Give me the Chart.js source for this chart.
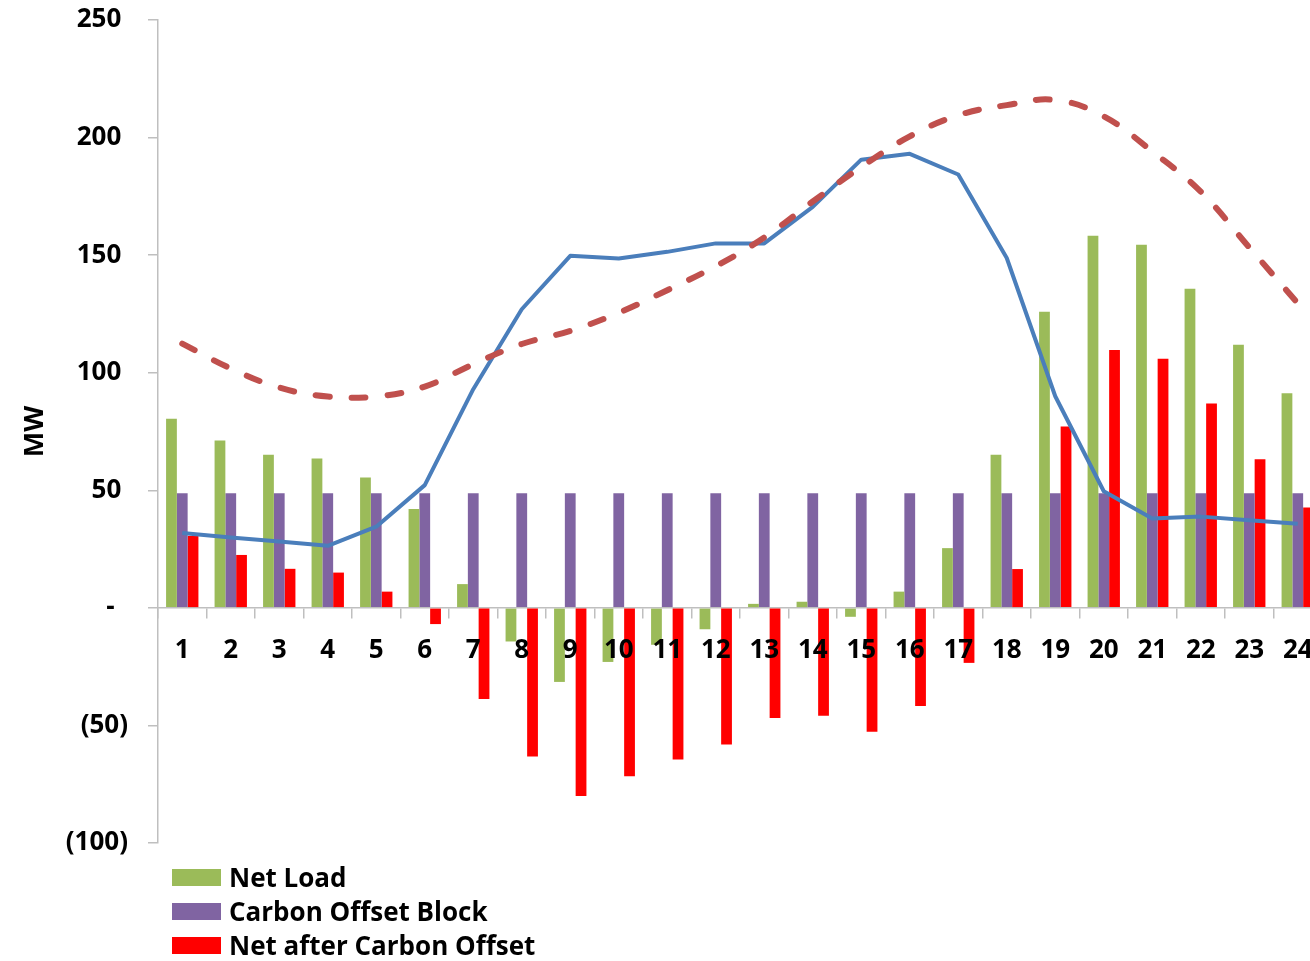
<!DOCTYPE html>
<html>
<head>
<meta charset="utf-8">
<script src="https://cdn.jsdelivr.net/npm/chart.js@4"></script>
<style>
  html, body { margin: 0; padding: 0; background: #fff; overflow: hidden; }
  #wrap { width: 1322px; height: 961px; }
</style>
</head>
<body>
<div id="wrap"><canvas id="c" width="1322" height="961"></canvas></div>
<script>
// Hour of day
const hours = ['1','2','3','4','5','6','7','8','9','10','11','12','13','14','15','16','17','18','19','20','21','22','23','24'];

// Bar series (MW)
const netLoad = [80.4, 71.2, 65.1, 63.5, 55.4, 42.0, 10.1, -14.3, -31.5, -23.0, -15.7, -9.1, 1.7, 2.6, -3.8, 6.9, 25.4, 65.1, 125.9, 158.2, 154.4, 135.7, 111.9, 91.3];
const carbonOffsetBlock = [48.7, 48.7, 48.7, 48.7, 48.7, 48.7, 48.7, 48.7, 48.7, 48.7, 48.7, 48.7, 48.7, 48.7, 48.7, 48.7, 48.7, 48.7, 48.7, 48.7, 48.7, 48.7, 48.7, 48.7];
const netAfterOffset = [30.6, 22.5, 16.6, 15.0, 6.9, -6.9, -38.8, -63.2, -80.0, -71.6, -64.5, -58.1, -46.8, -45.9, -52.7, -41.7, -23.4, 16.5, 77.1, 109.7, 105.9, 86.9, 63.2, 42.7];

// Line series (MW)
const solidProfile = [31.8, 29.9, 28.2, 26.4, 34.5, 52.2, 93.0, 127.0, 149.7, 148.6, 151.4, 155.0, 155.0, 170.5, 190.6, 193.1, 184.3, 148.8, 90.0, 49.6, 38.0, 38.8, 37.3, 35.8];
const dashedProfile = [112.4, 101.8, 93.7, 89.9, 89.9, 94.1, 103.6, 112.2, 117.8, 125.5, 135.1, 145.3, 157.5, 172.8, 187.5, 200.5, 209.5, 213.8, 216.0, 209.0, 194.1, 177.0, 153.3, 129.5];

// Value axis
const yMin = -100, yMax = 250, yStep = 50;

const FONT = '"Open Sans", "DejaVu Sans", sans-serif';
const AXIS_GREY = '#bfbfbf';

function formatTick(v) {
  if (v === 0) return '-  ';
  if (v < 0) return '(' + Math.abs(v) + ')';
  return v + ' ';
}

// Vertical legend listing the bar series under the plot
const sideLegend = {
  id: 'sideLegend',
  afterDraw(chart) {
    const { ctx, chartArea } = chart;
    const bars = chart.data.datasets.filter(d => d.type === 'bar');
    ctx.save();
    ctx.font = 'bold 26px ' + FONT;
    ctx.textBaseline = 'alphabetic';
    ctx.textAlign = 'left';
    bars.forEach((d, i) => {
      const top = chartArea.bottom + 26 + i * 34;
      ctx.fillStyle = d.backgroundColor;
      ctx.fillRect(chartArea.left + 14, top, 49, 17);
      ctx.fillStyle = '#000';
      ctx.fillText(d.label, chartArea.left + 71, top + 18);
    });
    ctx.restore();
  }
};

new Chart(document.getElementById('c'), {
  data: {
    labels: hours,
    datasets: [
      {
        type: 'line', label: 'Dashed profile', data: dashedProfile,
        borderColor: '#c0504d', borderWidth: 6, borderDash: [14, 22], borderCapStyle: 'round',
        tension: 0.4, pointRadius: 0, fill: false, order: 0
      },
      {
        type: 'line', label: 'Solid profile', data: solidProfile,
        borderColor: '#4a7ebb', borderWidth: 4, borderJoinStyle: 'round',
        tension: 0, pointRadius: 0, fill: false, order: 1
      },
      {
        type: 'bar', label: 'Net Load', data: netLoad,
        backgroundColor: '#9bbb59', categoryPercentage: 0.667, barPercentage: 1, order: 2
      },
      {
        type: 'bar', label: 'Carbon Offset Block', data: carbonOffsetBlock,
        backgroundColor: '#8064a2', categoryPercentage: 0.667, barPercentage: 1, order: 3
      },
      {
        type: 'bar', label: 'Net after Carbon Offset', data: netAfterOffset,
        backgroundColor: '#ff0000', categoryPercentage: 0.667, barPercentage: 1, order: 4
      }
    ]
  },
  options: {
    responsive: false,
    animation: false,
    layout: { padding: { left: 0, top: 20, right: 0, bottom: 118 } },
    plugins: { legend: { display: false }, tooltip: { enabled: false } },
    scales: {
      x: {
        position: { y: 0 },
        offset: true,
        grid: { drawOnChartArea: false, drawTicks: true, tickLength: 10, color: AXIS_GREY, lineWidth: 1.5, offset: true },
        border: { color: AXIS_GREY, width: 1.5 },
        ticks: { z: 1, color: '#000', font: { family: FONT, size: 26, weight: 'bold' }, padding: 17, maxRotation: 0, autoSkip: false },
        afterFit(scale) { scale.paddingLeft = 0; scale.paddingRight = 0; }
      },
      y: {
        min: yMin, max: yMax,
        grid: { drawOnChartArea: false, drawTicks: true, tickLength: 10, color: AXIS_GREY, lineWidth: 1.5 },
        border: { color: AXIS_GREY, width: 1.5 },
        ticks: { stepSize: yStep, color: '#000', font: { family: FONT, size: 26, weight: 'bold' }, padding: 20, callback: formatTick },
        title: { display: true, text: 'MW', color: '#000', font: { family: FONT, size: 27, weight: 'bold' }, padding: { top: 19, bottom: 0 } },
        afterFit(scale) { scale.width = 158; scale.paddingTop = 0; scale.paddingBottom = 0; }
      }
    }
  },
  plugins: [sideLegend]
});
</script>
</body>
</html>
